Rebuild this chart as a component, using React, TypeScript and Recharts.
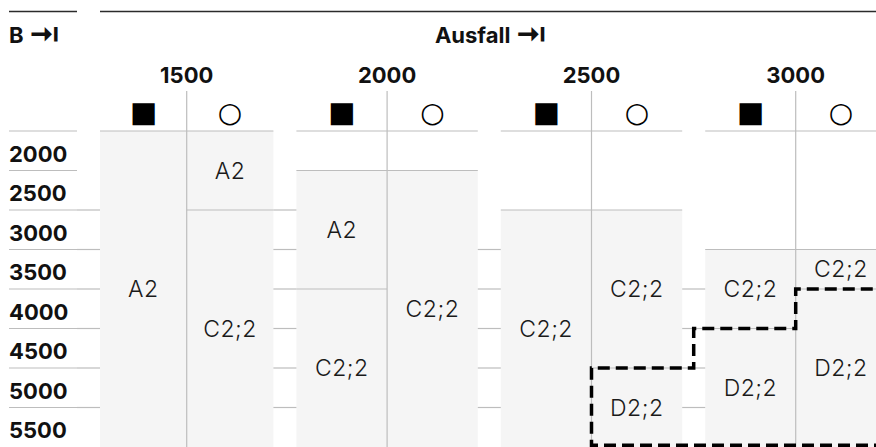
import React from 'react';
import { ComposedChart, XAxis, YAxis, ReferenceArea, ReferenceLine, Line, Customized } from 'recharts';

const rows = ['2000', '2500', '3000', '3500', '4000', '4500', '5000', '5500'];
const groups = ['1500', '2000', '2500', '3000'];
const kinds = ['■', '○'];

// merged cells: column group, symbol column, first row, last row, text
const cells = [
  { group: '1500', kind: '■', from: '2000', to: '5500', label: 'A2' },
  { group: '1500', kind: '○', from: '2000', to: '2500', label: 'A2' },
  { group: '1500', kind: '○', from: '3000', to: '5500', label: 'C2;2' },
  { group: '2000', kind: '■', from: '2500', to: '3500', label: 'A2' },
  { group: '2000', kind: '■', from: '4000', to: '5500', label: 'C2;2' },
  { group: '2000', kind: '○', from: '2500', to: '5500', label: 'C2;2' },
  { group: '2500', kind: '■', from: '3000', to: '5500', label: 'C2;2' },
  { group: '2500', kind: '○', from: '3000', to: '4500', label: 'C2;2' },
  { group: '2500', kind: '○', from: '5000', to: '5500', label: 'D2;2' },
  { group: '3000', kind: '■', from: '3500', to: '4000', label: 'C2;2' },
  { group: '3000', kind: '■', from: '4500', to: '5500', label: 'D2;2' },
  { group: '3000', kind: '○', from: '3500', to: '3500', label: 'C2;2' },
  { group: '3000', kind: '○', from: '4000', to: '5500', label: 'D2;2' },
];

// first row that has a rule in the gap left of each group
const gapRuleFrom = ['3000', '3000', '3500', '4000'];

// layout (1 x unit = 1px)
const W = 886;
const H = 447;
const LEFT = 100;
const TOP = 131;
const PLOT_W = W - LEFT;
const COL_W = [86.7, 90.7, 90.7, 90.5];
const GAP = 23;
const LABEL_RULE = [-91, -23];
const FONT = 'Inter, "Noto Sans", sans-serif';
const GRID = '#bdbdbd';

const groupStart: number[] = [];
groups.forEach((_, i) => {
  groupStart.push(i === 0 ? 0 : groupStart[i - 1] + 2 * COL_W[i - 1] + GAP);
});
const groupEnd = groups.map((_, i) => groupStart[i] + 2 * COL_W[i]);
const dividers = groups.map((_, i) => groupStart[i] + COL_W[i]);

const rowIdx = (r: string) => rows.indexOf(r);

const cellBoxes = cells.map((c) => {
  const g = groups.indexOf(c.group);
  const k = kinds.indexOf(c.kind);
  const x1 = groupStart[g] + k * COL_W[g];
  return { ...c, x1, x2: x1 + COL_W[g], y1: rowIdx(c.from), y2: rowIdx(c.to) + 1 };
});

// dashed outline around the D cells
const dCells = cellBoxes.filter((c) => c.label.startsWith('D')).sort((a, b) => a.x1 - b.x1);
const bottom = rows.length - 0.045;
const outline: { x: number; y: number }[] = [
  { x: PLOT_W, y: bottom },
  { x: dCells[0].x1, y: bottom },
  { x: dCells[0].x1, y: dCells[0].y1 },
];
for (let i = 1; i < dCells.length; i++) {
  const prev = dCells[i - 1];
  const cur = dCells[i];
  const tx = prev.x2 === cur.x1 ? cur.x1 : (prev.x2 + cur.x1) / 2;
  outline.push({ x: tx, y: prev.y1 }, { x: tx, y: cur.y1 });
}
outline.push({ x: PLOT_W, y: dCells[dCells.length - 1].y1 });

const GroupTick = (props: any) => {
  const { x, index } = props;
  const w = COL_W[index];
  return (
    <g>
      <text x={x} y={83} textAnchor="middle" fontFamily={FONT} fontWeight={700} fontSize={22} fill="#111">
        {groups[index]}
      </text>
      <text x={x - w / 2} y={122} textAnchor="middle" fontFamily='"DejaVu Sans"' fontSize={29} fill="#000">
        {kinds[0]}
      </text>
      <text x={x + w / 2} y={122} textAnchor="middle" fontFamily='"DejaVu Sans"' fontWeight={700} fontSize={28} fill="#000">
        {kinds[1]}
      </text>
      <line x1={x} x2={x} y1={91} y2={TOP} stroke={GRID} strokeWidth={1.2} />
    </g>
  );
};

const RowTick = (props: any) => {
  const { y, index } = props;
  return (
    <text x={9} y={y + 11} textAnchor="start" fontFamily={FONT} fontWeight={700} fontSize={22} fill="#111">
      {rows[index]}
    </text>
  );
};

const Header = () => (
  <g>
    <line x1={9} x2={77} y1={11.5} y2={11.5} stroke="#2b2b2b" strokeWidth={1.3} />
    <line x1={LEFT} x2={W} y1={11.5} y2={11.5} stroke="#2b2b2b" strokeWidth={1.3} />
    <text x={9} y={43} fontFamily={FONT} fontWeight={700} fontSize={22} fill="#111">
      B <tspan fontSize={30} dy={2}>⇥</tspan>
    </text>
    <text x={491} y={43} textAnchor="middle" fontFamily={FONT} fontWeight={700} fontSize={22} fill="#111">
      Ausfall <tspan fontSize={30} dy={2}>⇥</tspan>
    </text>
  </g>
);

const seg = (xa: number, xb: number, y: number) => [
  { x: xa, y },
  { x: xb, y },
];

export default function App() {
  const rules: { key: string; s: { x: number; y: number }[] }[] = [];
  rows.forEach((_, b) => rules.push({ key: `lab${b}`, s: seg(LABEL_RULE[0], LABEL_RULE[1], b) }));
  groups.forEach((g, i) => {
    rules.push({ key: `top${g}`, s: seg(groupStart[i], groupEnd[i], 0) });
    const from = rowIdx(gapRuleFrom[i]);
    const xa = i === 0 ? LABEL_RULE[1] : groupEnd[i - 1];
    for (let b = from; b < rows.length; b++) rules.push({ key: `gap${g}-${b}`, s: seg(xa, groupStart[i], b) });
  });
  cellBoxes.forEach((c, i) => {
    if (c.y1 > 0) rules.push({ key: `cell${i}`, s: seg(c.x1, c.x2, c.y1) });
  });

  return (
    <div style={{ position: 'absolute', left: 0, top: 0, width: 876, height: H, overflow: 'hidden', background: '#fff' }}>
      <ComposedChart width={W} height={H} margin={{ top: 0, right: 0, bottom: 0, left: 0 }}>
        <XAxis
          dataKey="x"
          type="number"
          orientation="top"
          domain={[0, PLOT_W]}
          height={TOP}
          ticks={dividers}
          interval={0}
          tick={<GroupTick />}
          axisLine={false}
          tickLine={false}
        />
        <YAxis
          type="number"
          domain={[0, rows.length]}
          reversed
          width={LEFT}
          ticks={rows.map((_, i) => i + 0.5)}
          interval={0}
          tick={<RowTick />}
          axisLine={false}
          tickLine={false}
        />
        {cellBoxes.map((c, i) => (
          <ReferenceArea
            key={`a${i}`}
            x1={c.x1}
            x2={c.x2}
            y1={c.y1}
            y2={c.y2}
            fill="#f5f5f5"
            fillOpacity={1}
            stroke="none"
            ifOverflow="visible"
            label={{
              value: c.label,
              position: 'center',
              fontSize: 23,
              fontFamily: FONT,
              fontWeight: 300,
              letterSpacing: 0.5,
              fill: '#1a1a1a',
            }}
          />
        ))}
        {rules.map((r) => (
          <ReferenceLine key={r.key} segment={r.s} stroke={GRID} strokeWidth={1.2} ifOverflow="visible" />
        ))}
        {dividers.map((d) => (
          <ReferenceLine key={`d${d}`} x={d} stroke={GRID} strokeWidth={1.2} />
        ))}
        <Line
          data={outline}
          dataKey="y"
          type="linear"
          stroke="#000"
          strokeWidth={3.5}
          strokeDasharray="12 6"
          dot={false}
          activeDot={false}
          isAnimationActive={false}
        />
        <Customized component={Header} />
      </ComposedChart>
    </div>
  );
}
